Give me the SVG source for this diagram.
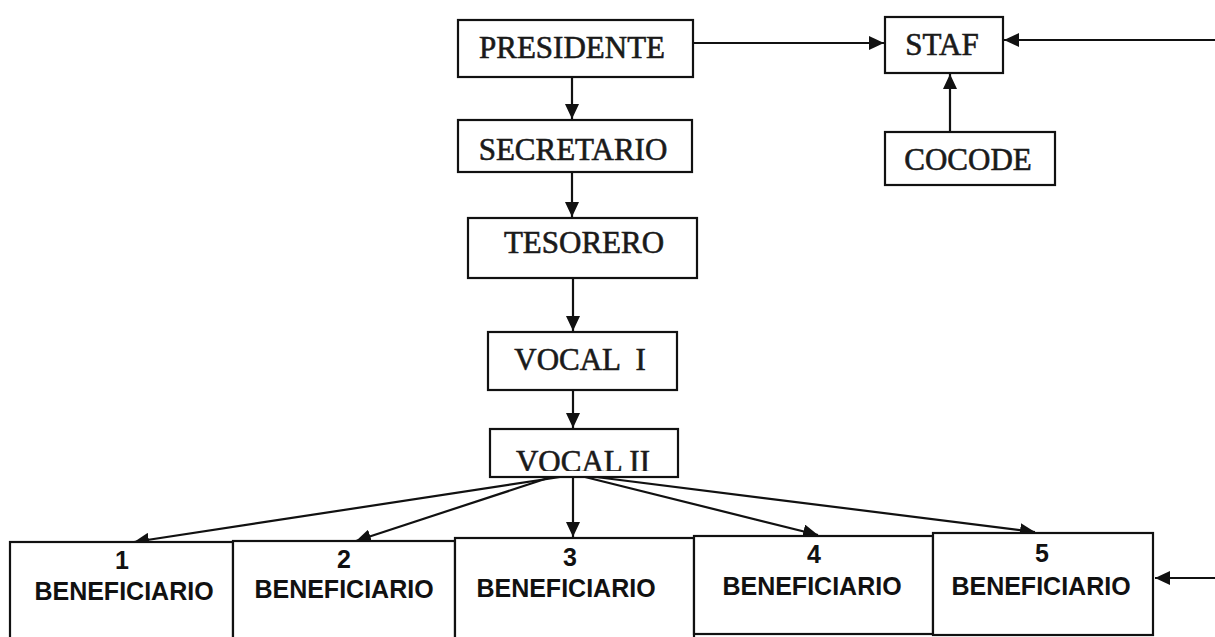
<svg xmlns="http://www.w3.org/2000/svg" width="1215" height="637" viewBox="0 0 1215 637">
<style>
.box{fill:#fff;stroke:#111;stroke-width:2.2}
.t{font-family:"Liberation Serif","Times New Roman",serif;font-size:31px;fill:#1a1a1a;stroke:#1a1a1a;stroke-width:0.6;text-anchor:middle}
.b{font-family:"Liberation Sans",Arial,sans-serif;font-size:25px;font-weight:bold;fill:#111;text-anchor:middle}
.c{stroke:#111;stroke-width:2.2;fill:none;marker-end:url(#ah)}
</style>
<defs>
<marker id="ah" markerUnits="userSpaceOnUse" markerWidth="16" markerHeight="14" refX="15" refY="7" orient="auto">
<path d="M0,0 L15,7 L0,14 Z" fill="#111"/>
</marker>
<clipPath id="v2clip"><rect x="490" y="429" width="188" height="42"/></clipPath>
</defs>
<rect width="1215" height="637" fill="#fff"/>
<g id="connectors">
<line class="c" x1="693" y1="43" x2="884" y2="43"/>
<line class="c" x1="1215" y1="40" x2="1004" y2="40"/>
<line class="c" x1="950" y1="132" x2="950" y2="74"/>
<line class="c" x1="572" y1="77" x2="572" y2="119"/>
<line class="c" x1="572" y1="172" x2="572" y2="217"/>
<line class="c" x1="573" y1="278" x2="573" y2="331"/>
<line class="c" x1="573" y1="390" x2="573" y2="428"/>
<line class="c" x1="560" y1="477" x2="134" y2="542"/>
<line class="c" x1="548" y1="478" x2="356" y2="541"/>
<line class="c" x1="573" y1="477" x2="573" y2="537"/>
<line class="c" x1="585" y1="477" x2="818" y2="535"/>
<line class="c" x1="596" y1="477" x2="1035" y2="532"/>
<line class="c" x1="1215" y1="578" x2="1155" y2="578"/>
</g>
<g id="presidente"><rect class="box" x="458" y="20" width="235" height="57"/><text class="t" x="572" y="58">PRESIDENTE</text></g>
<g id="secretario"><rect class="box" x="458" y="120" width="234" height="52"/><text class="t" x="573" y="160">SECRETARIO</text></g>
<g id="tesorero"><rect class="box" x="468" y="218" width="229" height="60"/><text class="t" x="584" y="253">TESORERO</text></g>
<g id="vocal1"><rect class="box" x="488" y="332" width="189" height="58"/><text class="t" x="580" y="370" xml:space="preserve">VOCAL  I</text></g>
<g id="vocal2"><rect class="box" x="490" y="429" width="188" height="48"/><text class="t" x="583" y="472" clip-path="url(#v2clip)">VOCAL II</text></g>
<g id="staf"><rect class="box" x="885" y="17" width="118" height="56"/><text class="t" x="942" y="55">STAF</text></g>
<g id="cocode"><rect class="box" x="885" y="132" width="170" height="53"/><text class="t" x="968" y="170">COCODE</text></g>
<g id="ben1"><rect class="box" x="10" y="542" width="223" height="110"/><text class="b" x="122" y="569">1</text><text class="b" x="124" y="600">BENEFICIARIO</text></g>
<g id="ben2"><rect class="box" x="233" y="541" width="222" height="110"/><text class="b" x="344" y="568">2</text><text class="b" x="344" y="598">BENEFICIARIO</text></g>
<g id="ben3"><rect class="box" x="455" y="538" width="239" height="110"/><text class="b" x="570" y="566">3</text><text class="b" x="566" y="597">BENEFICIARIO</text></g>
<g id="ben4"><rect class="box" x="694" y="536" width="239" height="98"/><text class="b" x="814" y="563">4</text><text class="b" x="812" y="595">BENEFICIARIO</text></g>
<g id="ben5"><rect class="box" x="933" y="533" width="220" height="102"/><text class="b" x="1042" y="562">5</text><text class="b" x="1041" y="595">BENEFICIARIO</text></g>
</svg>
